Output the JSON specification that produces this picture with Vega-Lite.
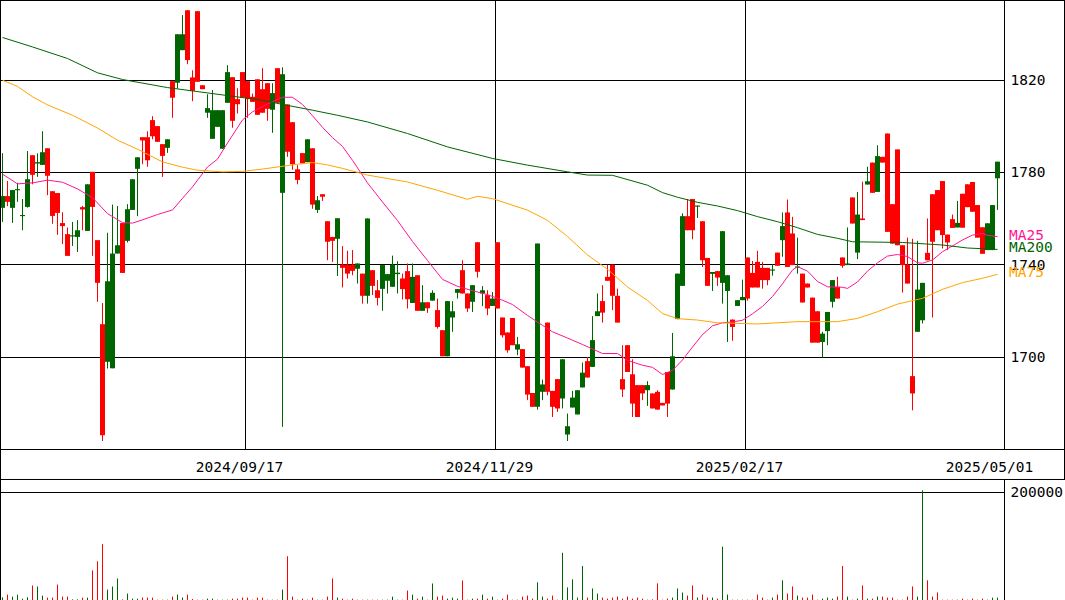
{
"width":1004,"height":600,
"autosize":{"type":"none"},
"padding":{"left":0,"top":0,"right":61,"bottom":0},
"background":"white",
"config":{"view":{"stroke":null},"text":{"font":"DejaVu Sans Mono"}},
"datasets":{
"candles":[
{"i":0,"d":"2024-07-05","o":1764.4,"h":1788.1,"l":1758.3,"c":1769.5,"v":5000},
{"i":1,"d":"2024-07-08","o":1769.5,"h":1776.0,"l":1765.1,"c":1767.0,"v":9900},
{"i":2,"d":"2024-07-09","o":1764.4,"h":1772.1,"l":1757.9,"c":1772.1,"v":6200},
{"i":3,"d":"2024-07-10","o":1772.0,"h":1775.2,"l":1767.0,"c":1772.5,"v":9900},
{"i":4,"d":"2024-07-11","o":1760.8,"h":1768.2,"l":1754.7,"c":1761.3,"v":2500},
{"i":5,"d":"2024-07-12","o":1764.8,"h":1789.0,"l":1764.5,"c":1776.8,"v":5000},
{"i":6,"d":"2024-07-16","o":1787.2,"h":1787.2,"l":1774.6,"c":1778.7,"v":26700},
{"i":7,"d":"2024-07-17","o":1783.6,"h":1788.0,"l":1777.8,"c":1784.2,"v":24800},
{"i":8,"d":"2024-07-18","o":1783.0,"h":1797.6,"l":1783.0,"c":1788.5,"v":8100},
{"i":9,"d":"2024-07-19","o":1790.2,"h":1790.2,"l":1769.9,"c":1778.3,"v":4300},
{"i":10,"d":"2024-07-22","o":1771.6,"h":1771.6,"l":1757.5,"c":1760.9,"v":4300},
{"i":11,"d":"2024-07-23","o":1770.8,"h":1770.8,"l":1752.7,"c":1762.2,"v":28500},
{"i":12,"d":"2024-07-24","o":1757.8,"h":1762.5,"l":1748.7,"c":1756.5,"v":6200},
{"i":13,"d":"2024-07-25","o":1753.0,"h":1755.9,"l":1743.6,"c":1743.6,"v":6200},
{"i":14,"d":"2024-07-26","o":1752.0,"h":1758.3,"l":1747.9,"c":1752.5,"v":1200},
{"i":15,"d":"2024-07-29","o":1751.8,"h":1759.1,"l":1745.3,"c":1754.7,"v":1200},
{"i":16,"d":"2024-07-30","o":1764.7,"h":1765.3,"l":1754.7,"c":1763.7,"v":4300},
{"i":17,"d":"2024-07-31","o":1754.4,"h":1774.6,"l":1754.4,"c":1774.6,"v":4300},
{"i":18,"d":"2024-08-01","o":1780.0,"h":1780.0,"l":1743.6,"c":1764.8,"v":54600},
{"i":19,"d":"2024-08-02","o":1750.4,"h":1750.4,"l":1723.7,"c":1731.9,"v":71300},
{"i":20,"d":"2024-08-05","o":1714.0,"h":1723.2,"l":1663.4,"c":1665.9,"v":102900},
{"i":21,"d":"2024-08-06","o":1697.7,"h":1753.6,"l":1694.8,"c":1732.6,"v":19200},
{"i":22,"d":"2024-08-07","o":1694.9,"h":1765.8,"l":1694.9,"c":1744.6,"v":24800},
{"i":23,"d":"2024-08-08","o":1744.6,"h":1765.2,"l":1744.6,"c":1748.2,"v":39700},
{"i":24,"d":"2024-08-09","o":1757.8,"h":1757.8,"l":1736.2,"c":1736.2,"v":1200},
{"i":25,"d":"2024-08-13","o":1750.1,"h":1766.0,"l":1749.4,"c":1763.8,"v":11800},
{"i":26,"d":"2024-08-14","o":1763.5,"h":1776.8,"l":1763.5,"c":1776.8,"v":2500},
{"i":27,"d":"2024-08-15","o":1781.3,"h":1786.3,"l":1760.8,"c":1786.3,"v":2500},
{"i":28,"d":"2024-08-16","o":1795.0,"h":1795.0,"l":1783.3,"c":1793.6,"v":4300},
{"i":29,"d":"2024-08-19","o":1795.0,"h":1797.6,"l":1782.2,"c":1785.0,"v":4300},
{"i":30,"d":"2024-08-20","o":1802.4,"h":1804.1,"l":1794.1,"c":1795.4,"v":4300},
{"i":31,"d":"2024-08-21","o":1799.8,"h":1799.8,"l":1793.0,"c":1793.0,"v":600},
{"i":32,"d":"2024-08-22","o":1792.0,"h":1792.0,"l":1777.8,"c":1786.9,"v":600},
{"i":33,"d":"2024-08-23","o":1790.4,"h":1794.1,"l":1788.2,"c":1794.1,"v":600},
{"i":34,"d":"2024-08-26","o":1819.3,"h":1819.3,"l":1803.4,"c":1812.1,"v":6200},
{"i":35,"d":"2024-08-27","o":1818.6,"h":1839.6,"l":1816.1,"c":1839.6,"v":9900},
{"i":36,"d":"2024-08-28","o":1832.7,"h":1847.9,"l":1832.7,"c":1839.6,"v":4300},
{"i":37,"d":"2024-08-29","o":1850.0,"h":1850.0,"l":1826.6,"c":1828.4,"v":9900},
{"i":38,"d":"2024-08-30","o":1820.9,"h":1824.0,"l":1810.6,"c":1815.1,"v":1900},
{"i":39,"d":"2024-09-02","o":1849.6,"h":1849.6,"l":1819.0,"c":1819.0,"v":600},
{"i":40,"d":"2024-09-03","o":1817.5,"h":1817.5,"l":1815.8,"c":1815.8,"v":600},
{"i":41,"d":"2024-09-04","o":1805.6,"h":1813.6,"l":1803.4,"c":1807.6,"v":2500},
{"i":42,"d":"2024-09-05","o":1794.3,"h":1815.4,"l":1794.3,"c":1806.7,"v":2500},
{"i":43,"d":"2024-09-06","o":1799.5,"h":1806.7,"l":1799.5,"c":1806.7,"v":600},
{"i":44,"d":"2024-09-09","o":1790.0,"h":1806.7,"l":1790.0,"c":1806.7,"v":600},
{"i":45,"d":"2024-09-10","o":1809.9,"h":1826.2,"l":1809.9,"c":1823.2,"v":600},
{"i":46,"d":"2024-09-11","o":1821.0,"h":1821.0,"l":1799.1,"c":1802.1,"v":2500},
{"i":47,"d":"2024-09-12","o":1811.5,"h":1816.2,"l":1805.3,"c":1809.3,"v":2500},
{"i":48,"d":"2024-09-13","o":1823.2,"h":1823.2,"l":1812.2,"c":1812.2,"v":4300},
{"i":49,"d":"2024-09-17","o":1819.3,"h":1819.3,"l":1803.4,"c":1811.5,"v":4300},
{"i":50,"d":"2024-09-18","o":1812.5,"h":1813.9,"l":1810.3,"c":1810.3,"v":600},
{"i":51,"d":"2024-09-19","o":1820.1,"h":1820.1,"l":1804.7,"c":1804.7,"v":4300},
{"i":52,"d":"2024-09-20","o":1815.8,"h":1824.9,"l":1805.6,"c":1805.6,"v":4300},
{"i":53,"d":"2024-09-24","o":1818.4,"h":1818.4,"l":1802.1,"c":1807.3,"v":600},
{"i":54,"d":"2024-09-25","o":1806.9,"h":1818.4,"l":1796.9,"c":1814.1,"v":600},
{"i":55,"d":"2024-09-26","o":1824.9,"h":1824.9,"l":1809.9,"c":1809.9,"v":600},
{"i":56,"d":"2024-09-27","o":1770.9,"h":1825.3,"l":1669.5,"c":1822.3,"v":19200},
{"i":57,"d":"2024-09-30","o":1809.2,"h":1809.2,"l":1786.5,"c":1788.7,"v":80600},
{"i":58,"d":"2024-10-01","o":1801.5,"h":1801.5,"l":1780.9,"c":1783.3,"v":6200},
{"i":59,"d":"2024-10-02","o":1781.1,"h":1782.9,"l":1774.6,"c":1776.5,"v":600},
{"i":60,"d":"2024-10-03","o":1788.1,"h":1788.1,"l":1783.7,"c":1783.7,"v":2500},
{"i":61,"d":"2024-10-04","o":1784.2,"h":1794.1,"l":1784.2,"c":1794.1,"v":600},
{"i":62,"d":"2024-10-07","o":1790.2,"h":1790.2,"l":1764.0,"c":1765.8,"v":4300},
{"i":63,"d":"2024-10-08","o":1763.5,"h":1769.5,"l":1762.2,"c":1767.7,"v":600},
{"i":64,"d":"2024-10-09","o":1770.3,"h":1770.3,"l":1767.4,"c":1769.2,"v":600},
{"i":65,"d":"2024-10-10","o":1758.6,"h":1758.6,"l":1741.7,"c":1749.7,"v":6200},
{"i":66,"d":"2024-10-11","o":1751.8,"h":1751.8,"l":1741.0,"c":1750.1,"v":39700},
{"i":67,"d":"2024-10-15","o":1751.0,"h":1759.9,"l":1734.9,"c":1759.9,"v":4300},
{"i":68,"d":"2024-10-16","o":1739.8,"h":1747.8,"l":1729.9,"c":1738.4,"v":2500},
{"i":69,"d":"2024-10-17","o":1739.8,"h":1745.8,"l":1733.8,"c":1735.9,"v":600},
{"i":70,"d":"2024-10-18","o":1739.8,"h":1746.1,"l":1735.2,"c":1737.1,"v":2500},
{"i":71,"d":"2024-10-21","o":1738.0,"h":1740.3,"l":1731.6,"c":1740.3,"v":600},
{"i":72,"d":"2024-10-22","o":1735.9,"h":1735.9,"l":1722.9,"c":1726.3,"v":600},
{"i":73,"d":"2024-10-23","o":1726.3,"h":1759.8,"l":1722.9,"c":1759.8,"v":600},
{"i":74,"d":"2024-10-24","o":1737.4,"h":1737.4,"l":1726.6,"c":1730.6,"v":600},
{"i":75,"d":"2024-10-25","o":1728.7,"h":1733.1,"l":1722.1,"c":1725.4,"v":600},
{"i":76,"d":"2024-10-28","o":1729.3,"h":1739.6,"l":1719.8,"c":1739.6,"v":600},
{"i":77,"d":"2024-10-29","o":1732.8,"h":1735.7,"l":1727.3,"c":1735.7,"v":600},
{"i":78,"d":"2024-10-30","o":1730.2,"h":1743.7,"l":1730.2,"c":1739.8,"v":6200},
{"i":79,"d":"2024-10-31","o":1735.7,"h":1741.3,"l":1727.3,"c":1736.3,"v":600},
{"i":80,"d":"2024-11-01","o":1733.8,"h":1735.9,"l":1724.7,"c":1729.2,"v":600},
{"i":81,"d":"2024-11-05","o":1737.0,"h":1740.3,"l":1720.8,"c":1724.8,"v":17400},
{"i":82,"d":"2024-11-06","o":1723.2,"h":1740.3,"l":1723.2,"c":1734.5,"v":9900},
{"i":83,"d":"2024-11-07","o":1735.2,"h":1735.2,"l":1719.8,"c":1719.8,"v":2500},
{"i":84,"d":"2024-11-08","o":1719.8,"h":1730.9,"l":1719.8,"c":1723.5,"v":6200},
{"i":85,"d":"2024-11-11","o":1723.5,"h":1723.5,"l":1718.9,"c":1720.9,"v":600},
{"i":86,"d":"2024-11-12","o":1724.2,"h":1728.7,"l":1724.2,"c":1727.6,"v":30400},
{"i":87,"d":"2024-11-13","o":1720.1,"h":1725.1,"l":1712.1,"c":1712.8,"v":6200},
{"i":88,"d":"2024-11-14","o":1711.4,"h":1711.4,"l":1700.1,"c":1700.1,"v":8100},
{"i":89,"d":"2024-11-15","o":1700.1,"h":1724.0,"l":1700.1,"c":1724.0,"v":2500},
{"i":90,"d":"2024-11-18","o":1716.9,"h":1724.0,"l":1710.7,"c":1719.6,"v":4300},
{"i":91,"d":"2024-11-19","o":1727.6,"h":1729.2,"l":1725.1,"c":1729.2,"v":2500},
{"i":92,"d":"2024-11-20","o":1737.4,"h":1741.7,"l":1727.3,"c":1727.3,"v":36000},
{"i":93,"d":"2024-11-21","o":1727.3,"h":1727.3,"l":1719.3,"c":1720.8,"v":600},
{"i":94,"d":"2024-11-22","o":1723.7,"h":1730.9,"l":1719.3,"c":1730.9,"v":2500},
{"i":95,"d":"2024-11-25","o":1749.5,"h":1749.5,"l":1734.2,"c":1736.7,"v":2500},
{"i":96,"d":"2024-11-26","o":1727.3,"h":1730.5,"l":1721.8,"c":1728.7,"v":9900},
{"i":97,"d":"2024-11-27","o":1726.6,"h":1728.7,"l":1717.9,"c":1720.8,"v":2500},
{"i":98,"d":"2024-11-28","o":1721.9,"h":1727.9,"l":1721.9,"c":1725.1,"v":6200},
{"i":99,"d":"2024-11-29","o":1749.5,"h":1749.5,"l":1720.8,"c":1720.8,"v":600},
{"i":100,"d":"2024-12-02","o":1716.9,"h":1716.9,"l":1708.2,"c":1709.2,"v":2500},
{"i":101,"d":"2024-12-03","o":1710.4,"h":1710.4,"l":1701.6,"c":1702.7,"v":9900},
{"i":102,"d":"2024-12-04","o":1716.7,"h":1716.7,"l":1704.9,"c":1704.9,"v":600},
{"i":103,"d":"2024-12-05","o":1703.0,"h":1708.5,"l":1700.6,"c":1705.3,"v":600},
{"i":104,"d":"2024-12-06","o":1703.2,"h":1703.2,"l":1695.2,"c":1695.2,"v":6200},
{"i":105,"d":"2024-12-09","o":1695.8,"h":1695.8,"l":1681.1,"c":1683.5,"v":8100},
{"i":106,"d":"2024-12-10","o":1684.2,"h":1684.2,"l":1678.2,"c":1678.2,"v":2500},
{"i":107,"d":"2024-12-11","o":1678.2,"h":1748.9,"l":1677.0,"c":1748.9,"v":32600},
{"i":108,"d":"2024-12-12","o":1684.7,"h":1690.0,"l":1681.1,"c":1687.9,"v":6300},
{"i":109,"d":"2024-12-13","o":1714.7,"h":1714.7,"l":1683.2,"c":1684.7,"v":2500},
{"i":110,"d":"2024-12-16","o":1685.1,"h":1685.1,"l":1673.8,"c":1678.2,"v":8100},
{"i":111,"d":"2024-12-17","o":1690.2,"h":1690.2,"l":1676.0,"c":1677.5,"v":600},
{"i":112,"d":"2024-12-18","o":1681.8,"h":1698.8,"l":1677.5,"c":1698.8,"v":87000},
{"i":113,"d":"2024-12-19","o":1666.2,"h":1675.3,"l":1663.4,"c":1669.8,"v":23200},
{"i":114,"d":"2024-12-20","o":1677.9,"h":1685.1,"l":1677.9,"c":1682.2,"v":38200},
{"i":115,"d":"2024-12-23","o":1674.9,"h":1685.4,"l":1674.9,"c":1685.4,"v":4400},
{"i":116,"d":"2024-12-24","o":1686.6,"h":1697.4,"l":1686.6,"c":1693.0,"v":62600},
{"i":117,"d":"2024-12-25","o":1698.0,"h":1699.8,"l":1690.9,"c":1690.9,"v":4400},
{"i":118,"d":"2024-12-26","o":1695.5,"h":1717.5,"l":1695.5,"c":1707.1,"v":21300},
{"i":119,"d":"2024-12-27","o":1717.5,"h":1727.3,"l":1717.5,"c":1719.6,"v":11900},
{"i":120,"d":"2024-12-30","o":1724.0,"h":1730.9,"l":1714.7,"c":1719.0,"v":4400},
{"i":121,"d":"2025-01-06","o":1734.5,"h":1739.8,"l":1732.8,"c":1732.8,"v":2500},
{"i":122,"d":"2025-01-07","o":1739.8,"h":1739.8,"l":1720.1,"c":1726.3,"v":4400},
{"i":123,"d":"2025-01-08","o":1726.3,"h":1729.4,"l":1714.7,"c":1714.7,"v":6300},
{"i":124,"d":"2025-01-09","o":1690.2,"h":1704.9,"l":1682.5,"c":1685.7,"v":2500},
{"i":125,"d":"2025-01-10","o":1704.9,"h":1704.9,"l":1693.3,"c":1693.3,"v":6300},
{"i":126,"d":"2025-01-14","o":1692.3,"h":1698.8,"l":1673.8,"c":1679.6,"v":2500},
{"i":127,"d":"2025-01-15","o":1687.6,"h":1687.6,"l":1673.8,"c":1673.8,"v":4400},
{"i":128,"d":"2025-01-16","o":1687.6,"h":1687.6,"l":1681.1,"c":1684.0,"v":2500},
{"i":129,"d":"2025-01-17","o":1685.4,"h":1689.3,"l":1678.6,"c":1687.6,"v":600},
{"i":130,"d":"2025-01-20","o":1684.0,"h":1684.0,"l":1677.5,"c":1677.5,"v":1200},
{"i":131,"d":"2025-01-21","o":1684.7,"h":1685.4,"l":1677.0,"c":1677.0,"v":30700},
{"i":132,"d":"2025-01-22","o":1679.9,"h":1679.9,"l":1678.8,"c":1678.8,"v":600},
{"i":133,"d":"2025-01-23","o":1693.3,"h":1693.3,"l":1673.8,"c":1679.6,"v":2500},
{"i":134,"d":"2025-01-24","o":1685.7,"h":1710.2,"l":1685.7,"c":1700.1,"v":4400},
{"i":135,"d":"2025-01-27","o":1716.2,"h":1735.9,"l":1716.2,"c":1735.9,"v":21300},
{"i":136,"d":"2025-01-28","o":1730.6,"h":1762.0,"l":1730.6,"c":1760.8,"v":13800},
{"i":137,"d":"2025-01-29","o":1760.8,"h":1768.2,"l":1754.7,"c":1754.7,"v":8100},
{"i":138,"d":"2025-01-30","o":1768.2,"h":1768.2,"l":1750.8,"c":1754.7,"v":26900},
{"i":139,"d":"2025-01-31","o":1764.9,"h":1765.4,"l":1760.0,"c":1765.4,"v":4400},
{"i":140,"d":"2025-02-03","o":1758.6,"h":1758.6,"l":1738.8,"c":1741.7,"v":10000},
{"i":141,"d":"2025-02-04","o":1742.7,"h":1742.7,"l":1730.6,"c":1730.6,"v":4400},
{"i":142,"d":"2025-02-05","o":1735.8,"h":1736.6,"l":1728.4,"c":1736.6,"v":4400},
{"i":143,"d":"2025-02-06","o":1737.0,"h":1737.0,"l":1730.6,"c":1734.2,"v":2500},
{"i":144,"d":"2025-02-07","o":1731.9,"h":1754.3,"l":1722.9,"c":1754.3,"v":98300},
{"i":145,"d":"2025-02-10","o":1728.4,"h":1735.2,"l":1706.3,"c":1735.2,"v":10000},
{"i":146,"d":"2025-02-12","o":1716.0,"h":1716.0,"l":1706.8,"c":1712.8,"v":600},
{"i":147,"d":"2025-02-13","o":1721.9,"h":1724.4,"l":1721.9,"c":1724.4,"v":600},
{"i":148,"d":"2025-02-14","o":1724.4,"h":1733.3,"l":1724.4,"c":1725.8,"v":600},
{"i":149,"d":"2025-02-17","o":1742.9,"h":1742.9,"l":1724.2,"c":1725.1,"v":600},
{"i":150,"d":"2025-02-18","o":1736.2,"h":1741.4,"l":1729.9,"c":1729.9,"v":600},
{"i":151,"d":"2025-02-19","o":1741.0,"h":1745.8,"l":1729.9,"c":1729.9,"v":10000},
{"i":152,"d":"2025-02-20","o":1738.4,"h":1741.0,"l":1729.4,"c":1733.1,"v":4400},
{"i":153,"d":"2025-02-21","o":1738.4,"h":1738.4,"l":1730.9,"c":1733.1,"v":600},
{"i":154,"d":"2025-02-25","o":1737.2,"h":1740.0,"l":1735.0,"c":1737.7,"v":4400},
{"i":155,"d":"2025-02-26","o":1745.0,"h":1745.0,"l":1739.3,"c":1739.3,"v":10000},
{"i":156,"d":"2025-02-27","o":1750.4,"h":1762.4,"l":1743.2,"c":1756.5,"v":36300},
{"i":157,"d":"2025-02-28","o":1762.4,"h":1768.0,"l":1738.8,"c":1738.8,"v":11900},
{"i":158,"d":"2025-03-03","o":1753.3,"h":1760.5,"l":1739.6,"c":1739.6,"v":25000},
{"i":159,"d":"2025-03-04","o":1738.5,"h":1751.5,"l":1735.9,"c":1739.0,"v":8100},
{"i":160,"d":"2025-03-05","o":1735.9,"h":1735.9,"l":1723.4,"c":1723.4,"v":4400},
{"i":161,"d":"2025-03-06","o":1731.6,"h":1731.6,"l":1729.9,"c":1729.9,"v":4400},
{"i":162,"d":"2025-03-07","o":1725.5,"h":1725.5,"l":1706.0,"c":1706.0,"v":10000},
{"i":163,"d":"2025-03-10","o":1719.6,"h":1719.6,"l":1706.0,"c":1706.0,"v":600},
{"i":164,"d":"2025-03-11","o":1706.3,"h":1710.7,"l":1699.6,"c":1709.9,"v":2500},
{"i":165,"d":"2025-03-12","o":1711.0,"h":1719.3,"l":1704.9,"c":1719.3,"v":4400},
{"i":166,"d":"2025-03-13","o":1723.7,"h":1733.1,"l":1721.2,"c":1733.1,"v":2500},
{"i":167,"d":"2025-03-14","o":1730.2,"h":1734.5,"l":1725.1,"c":1725.1,"v":6300},
{"i":168,"d":"2025-03-17","o":1742.9,"h":1742.9,"l":1738.4,"c":1739.3,"v":62600},
{"i":169,"d":"2025-03-18","o":1739.6,"h":1755.9,"l":1739.6,"c":1740.3,"v":6300},
{"i":170,"d":"2025-03-19","o":1768.9,"h":1768.9,"l":1757.6,"c":1757.6,"v":600},
{"i":171,"d":"2025-03-21","o":1745.0,"h":1771.3,"l":1742.2,"c":1761.5,"v":2500},
{"i":172,"d":"2025-03-24","o":1759.8,"h":1775.7,"l":1759.1,"c":1759.1,"v":26900},
{"i":173,"d":"2025-03-25","o":1774.5,"h":1782.2,"l":1774.5,"c":1775.9,"v":2500},
{"i":174,"d":"2025-03-26","o":1784.0,"h":1784.0,"l":1770.9,"c":1770.9,"v":2500},
{"i":175,"d":"2025-03-27","o":1771.3,"h":1791.5,"l":1771.3,"c":1786.8,"v":6300},
{"i":176,"d":"2025-03-28","o":1786.5,"h":1786.5,"l":1784.0,"c":1784.0,"v":6300},
{"i":177,"d":"2025-03-31","o":1796.6,"h":1796.6,"l":1754.0,"c":1754.0,"v":4400},
{"i":178,"d":"2025-04-01","o":1766.0,"h":1766.0,"l":1748.9,"c":1748.9,"v":4400},
{"i":179,"d":"2025-04-02","o":1789.7,"h":1789.7,"l":1748.2,"c":1748.2,"v":600},
{"i":180,"d":"2025-04-03","o":1748.2,"h":1748.2,"l":1727.7,"c":1739.6,"v":600},
{"i":181,"d":"2025-04-04","o":1739.8,"h":1751.5,"l":1731.6,"c":1731.6,"v":6300},
{"i":182,"d":"2025-04-07","o":1691.5,"h":1751.0,"l":1676.7,"c":1684.0,"v":25000},
{"i":183,"d":"2025-04-08","o":1710.7,"h":1750.1,"l":1710.7,"c":1729.0,"v":6300},
{"i":184,"d":"2025-04-09","o":1715.7,"h":1731.9,"l":1714.3,"c":1731.9,"v":202000},
{"i":185,"d":"2025-04-10","o":1744.9,"h":1759.8,"l":1741.7,"c":1741.7,"v":36300},
{"i":186,"d":"2025-04-11","o":1770.3,"h":1770.3,"l":1716.9,"c":1749.7,"v":6300},
{"i":187,"d":"2025-04-14","o":1772.1,"h":1772.1,"l":1754.7,"c":1754.7,"v":13800},
{"i":188,"d":"2025-04-15","o":1776.0,"h":1776.0,"l":1746.8,"c":1752.6,"v":600},
{"i":189,"d":"2025-04-16","o":1752.8,"h":1752.8,"l":1746.1,"c":1749.4,"v":600},
{"i":190,"d":"2025-04-17","o":1759.5,"h":1761.5,"l":1755.7,"c":1755.7,"v":600},
{"i":191,"d":"2025-04-18","o":1755.9,"h":1767.4,"l":1755.9,"c":1757.9,"v":600},
{"i":192,"d":"2025-04-21","o":1770.5,"h":1770.5,"l":1755.8,"c":1755.8,"v":2500},
{"i":193,"d":"2025-04-22","o":1774.6,"h":1774.6,"l":1764.7,"c":1764.7,"v":600},
{"i":194,"d":"2025-04-23","o":1775.6,"h":1775.6,"l":1762.7,"c":1762.7,"v":2500},
{"i":195,"d":"2025-04-24","o":1765.6,"h":1765.6,"l":1751.5,"c":1751.5,"v":600},
{"i":196,"d":"2025-04-25","o":1756.0,"h":1756.0,"l":1744.5,"c":1744.5,"v":2500},
{"i":197,"d":"2025-04-28","o":1746.1,"h":1757.7,"l":1746.1,"c":1757.7,"v":600},
{"i":198,"d":"2025-04-30","o":1746.1,"h":1765.6,"l":1746.1,"c":1765.6,"v":4400},
{"i":199,"d":"2025-05-01","o":1777.2,"h":1784.4,"l":1763.5,"c":1784.4,"v":4400}
],
"ma":[
{"s":"MA25","i":0,"v":1779.0},{"s":"MA25","i":3,"v":1774.8},{"s":"MA25","i":6,"v":1775.2},{"s":"MA25","i":9,"v":1776.4},{"s":"MA25","i":12,"v":1775.5},{"s":"MA25","i":15,"v":1772.6},{"s":"MA25","i":18,"v":1768.8},{"s":"MA25","i":21,"v":1761.9},{"s":"MA25","i":24,"v":1758.0},{"s":"MA25","i":26,"v":1757.8},{"s":"MA25","i":28,"v":1759.2},{"s":"MA25","i":31,"v":1761.5},{"s":"MA25","i":34,"v":1763.5},{"s":"MA25","i":36,"v":1768.5},{"s":"MA25","i":38,"v":1773.5},{"s":"MA25","i":41,"v":1782.1},{"s":"MA25","i":43,"v":1785.5},{"s":"MA25","i":45,"v":1792.5},{"s":"MA25","i":48,"v":1802.5},{"s":"MA25","i":50,"v":1806.0},{"s":"MA25","i":53,"v":1809.4},{"s":"MA25","i":56,"v":1812.3},{"s":"MA25","i":58,"v":1812.3},{"s":"MA25","i":60,"v":1809.2},{"s":"MA25","i":62,"v":1804.3},{"s":"MA25","i":64,"v":1799.3},{"s":"MA25","i":66,"v":1794.8},{"s":"MA25","i":68,"v":1791.0},{"s":"MA25","i":70,"v":1785.0},{"s":"MA25","i":73,"v":1775.2},{"s":"MA25","i":76,"v":1766.9},{"s":"MA25","i":79,"v":1758.9},{"s":"MA25","i":82,"v":1749.8},{"s":"MA25","i":85,"v":1741.6},{"s":"MA25","i":88,"v":1733.4},{"s":"MA25","i":91,"v":1730.4},{"s":"MA25","i":94,"v":1728.5},{"s":"MA25","i":97,"v":1726.8},{"s":"MA25","i":100,"v":1724.4},{"s":"MA25","i":102,"v":1722.5},{"s":"MA25","i":105,"v":1717.8},{"s":"MA25","i":108,"v":1713.5},{"s":"MA25","i":110,"v":1710.7},{"s":"MA25","i":113,"v":1708.0},{"s":"MA25","i":116,"v":1705.2},{"s":"MA25","i":120,"v":1701.3},{"s":"MA25","i":123,"v":1701.3},{"s":"MA25","i":125,"v":1698.3},{"s":"MA25","i":128,"v":1696.2},{"s":"MA25","i":130,"v":1695.3},{"s":"MA25","i":132,"v":1692.2},{"s":"MA25","i":134,"v":1694.0},{"s":"MA25","i":136,"v":1698.5},{"s":"MA25","i":138,"v":1704.1},{"s":"MA25","i":140,"v":1709.5},{"s":"MA25","i":142,"v":1713.3},{"s":"MA25","i":144,"v":1714.6},{"s":"MA25","i":146,"v":1715.0},{"s":"MA25","i":148,"v":1715.7},{"s":"MA25","i":150,"v":1718.5},{"s":"MA25","i":152,"v":1721.7},{"s":"MA25","i":154,"v":1726.0},{"s":"MA25","i":156,"v":1731.5},{"s":"MA25","i":158,"v":1737.5},{"s":"MA25","i":159,"v":1738.9},{"s":"MA25","i":161,"v":1737.0},{"s":"MA25","i":163,"v":1732.5},{"s":"MA25","i":165,"v":1730.2},{"s":"MA25","i":168,"v":1730.0},{"s":"MA25","i":169,"v":1729.5},{"s":"MA25","i":171,"v":1732.3},{"s":"MA25","i":173,"v":1737.0},{"s":"MA25","i":175,"v":1740.6},{"s":"MA25","i":177,"v":1743.5},{"s":"MA25","i":179,"v":1744.2},{"s":"MA25","i":181,"v":1743.3},{"s":"MA25","i":183,"v":1740.6},{"s":"MA25","i":184,"v":1740.4},{"s":"MA25","i":186,"v":1741.8},{"s":"MA25","i":188,"v":1745.4},{"s":"MA25","i":190,"v":1747.9},{"s":"MA25","i":192,"v":1750.5},{"s":"MA25","i":194,"v":1752.6},{"s":"MA25","i":196,"v":1753.3},{"s":"MA25","i":197,"v":1752.5},{"s":"MA25","i":199,"v":1751.9},
{"s":"MA75","i":0,"v":1819.7},{"s":"MA75","i":3,"v":1817.0},{"s":"MA75","i":6,"v":1812.5},{"s":"MA75","i":9,"v":1809.0},{"s":"MA75","i":14,"v":1804.5},{"s":"MA75","i":19,"v":1799.0},{"s":"MA75","i":23,"v":1793.7},{"s":"MA75","i":27,"v":1789.8},{"s":"MA75","i":32,"v":1784.3},{"s":"MA75","i":36,"v":1782.0},{"s":"MA75","i":39,"v":1780.7},{"s":"MA75","i":44,"v":1780.0},{"s":"MA75","i":48,"v":1780.2},{"s":"MA75","i":52,"v":1781.2},{"s":"MA75","i":59,"v":1783.3},{"s":"MA75","i":62,"v":1784.0},{"s":"MA75","i":65,"v":1783.0},{"s":"MA75","i":68,"v":1781.5},{"s":"MA75","i":73,"v":1778.6},{"s":"MA75","i":81,"v":1775.6},{"s":"MA75","i":87,"v":1772.0},{"s":"MA75","i":93,"v":1768.1},{"s":"MA75","i":95,"v":1769.4},{"s":"MA75","i":98,"v":1768.4},{"s":"MA75","i":105,"v":1763.4},{"s":"MA75","i":109,"v":1759.0},{"s":"MA75","i":113,"v":1752.0},{"s":"MA75","i":117,"v":1744.0},{"s":"MA75","i":121,"v":1737.8},{"s":"MA75","i":125,"v":1730.1},{"s":"MA75","i":129,"v":1724.3},{"s":"MA75","i":132,"v":1718.6},{"s":"MA75","i":135,"v":1716.4},{"s":"MA75","i":139,"v":1715.8},{"s":"MA75","i":143,"v":1714.6},{"s":"MA75","i":151,"v":1714.1},{"s":"MA75","i":159,"v":1715.1},{"s":"MA75","i":167,"v":1715.1},{"s":"MA75","i":171,"v":1716.5},{"s":"MA75","i":175,"v":1719.4},{"s":"MA75","i":179,"v":1722.7},{"s":"MA75","i":184,"v":1725.2},{"s":"MA75","i":188,"v":1729.1},{"s":"MA75","i":192,"v":1732.0},{"s":"MA75","i":196,"v":1733.9},{"s":"MA75","i":199,"v":1735.6},
{"s":"MA200","i":0,"v":1838.2},{"s":"MA200","i":6,"v":1834.1},{"s":"MA200","i":13,"v":1829.1},{"s":"MA200","i":19,"v":1822.9},{"s":"MA200","i":24,"v":1820.0},{"s":"MA200","i":33,"v":1816.5},{"s":"MA200","i":42,"v":1813.9},{"s":"MA200","i":52,"v":1811.0},{"s":"MA200","i":56,"v":1809.2},{"s":"MA200","i":62,"v":1806.7},{"s":"MA200","i":67,"v":1804.5},{"s":"MA200","i":73,"v":1801.6},{"s":"MA200","i":81,"v":1796.6},{"s":"MA200","i":89,"v":1790.8},{"s":"MA200","i":98,"v":1785.8},{"s":"MA200","i":105,"v":1782.9},{"s":"MA200","i":113,"v":1780.0},{"s":"MA200","i":117,"v":1778.6},{"s":"MA200","i":122,"v":1778.5},{"s":"MA200","i":129,"v":1774.2},{"s":"MA200","i":132,"v":1771.0},{"s":"MA200","i":135,"v":1769.0},{"s":"MA200","i":139,"v":1766.8},{"s":"MA200","i":143,"v":1765.2},{"s":"MA200","i":147,"v":1763.2},{"s":"MA200","i":151,"v":1760.6},{"s":"MA200","i":155,"v":1758.4},{"s":"MA200","i":159,"v":1755.8},{"s":"MA200","i":163,"v":1752.9},{"s":"MA200","i":167,"v":1751.2},{"s":"MA200","i":170,"v":1749.7},{"s":"MA200","i":180,"v":1749.4},{"s":"MA200","i":188,"v":1748.3},{"s":"MA200","i":193,"v":1747.0},{"s":"MA200","i":199,"v":1746.4}
]
},
"layer":[
{"layer":[
{"data":{"name":"candles"},
 "mark":{"type":"rule","strokeWidth":1},
 "encoding":{
  "x":{"field":"i","type":"quantitative","scale":{"domain":[-0.5,200.3],"nice":false,"zero":false,"padding":0},
   "axis":{"orient":"bottom","offset":-151,"values":[48.5,98.5,148.5,198.5],"labelExpr":"datum.value < 50 ? '2024/09/17' : datum.value < 100 ? '2024/11/29' : datum.value < 150 ? '2025/02/17' : '2025/05/01'","title":null,"domain":false,"ticks":false,"tickSize":0,"grid":false,"labelPadding":11,"labelOffset":-6,"labelBaseline":"top","labelAlign":"center","labelFontSize":14.5,"labelFont":"DejaVu Sans Mono","labelColor":"black","labelFlush":false,"labelOverlap":false,"labelBound":false}},
  "y":{"field":"l","type":"quantitative","scale":{"domain":[1659.93,1854.44],"range":[449,0],"nice":false,"zero":false,"padding":0},
   "axis":{"orient":"right","values":[1700,1740,1780,1820],"format":"d","title":null,"grid":true,"gridColor":"black","gridOpacity":1,"gridWidth":1,"domain":false,"ticks":false,"tickSize":0,"labelPadding":6,"labelAlign":"left","labelBaseline":"middle","labelOffset":1,"labelFontSize":14.5,"labelFont":"DejaVu Sans Mono","labelColor":"black","labelFlush":false,"labelOverlap":false,"labelBound":false}},
  "y2":{"field":"h"},
  "color":{"condition":{"test":"datum.c >= datum.o","value":"#006400"},"value":"#ff0000"}}},
{"data":{"values":[{"i":48.5},{"i":98.5},{"i":148.5}]},
 "mark":{"type":"rule","color":"black","strokeWidth":1,"xOffset":0.5},
 "encoding":{
  "x":{"field":"i","type":"quantitative","scale":{"domain":[-0.5,200.3],"nice":false,"zero":false,"padding":0}},
  "y":{"datum":1854.44,"type":"quantitative","scale":{"domain":[1659.93,1854.44],"range":[449,0],"nice":false,"zero":false,"padding":0}},
  "y2":{"datum":1659.93}}},
{"data":{"name":"candles"},
 "mark":{"type":"bar","size":5},
 "encoding":{
  "x":{"field":"i","type":"quantitative","scale":{"domain":[-0.5,200.3],"nice":false,"zero":false,"padding":0}},
  "y":{"field":"o","type":"quantitative","scale":{"domain":[1659.93,1854.44],"range":[449,0],"nice":false,"zero":false,"padding":0}},
  "y2":{"field":"c"},
  "color":{"condition":{"test":"datum.c >= datum.o","value":"#006400"},"value":"#ff0000"}}},
{"data":{"name":"ma"},
 "mark":{"type":"line","strokeWidth":1},
 "encoding":{
  "x":{"field":"i","type":"quantitative","scale":{"domain":[-0.5,200.3],"nice":false,"zero":false,"padding":0}},
  "y":{"field":"v","type":"quantitative","scale":{"domain":[1659.93,1854.44],"range":[449,0],"nice":false,"zero":false,"padding":0}},
  "color":{"field":"s","type":"nominal","scale":{"domain":["MA25","MA75","MA200"],"range":["#ff1493","#ffa500","#006400"]},"legend":null}}},
{"data":{"name":"ma"},
 "transform":[{"filter":"datum.i == 199"}],
 "mark":{"type":"text","align":"left","baseline":"middle","dx":11.5,"dy":-1,"fontSize":14.5,"font":"DejaVu Sans Mono"},
 "encoding":{
  "x":{"field":"i","type":"quantitative","scale":{"domain":[-0.5,200.3],"nice":false,"zero":false,"padding":0}},
  "y":{"field":"v","type":"quantitative","scale":{"domain":[1659.93,1854.44],"range":[449,0],"nice":false,"zero":false,"padding":0}},
  "text":{"field":"s"},
  "color":{"field":"s","type":"nominal","scale":{"domain":["MA25","MA75","MA200"],"range":["#ff1493","#ffa500","#006400"]},"legend":null}}},
{"data":{"values":[{}]},"mark":{"type":"rule","color":"black","strokeWidth":1},
 "encoding":{"x":{"datum":-0.5,"type":"quantitative","scale":{"domain":[-0.5,200.3],"nice":false,"zero":false,"padding":0}},"x2":{"datum":212.5},
  "y":{"datum":1854.22,"type":"quantitative","scale":{"domain":[1659.93,1854.44],"range":[449,0],"nice":false,"zero":false,"padding":0}}}},
{"data":{"values":[{}]},"mark":{"type":"rule","color":"black","strokeWidth":1},
 "encoding":{"x":{"datum":-0.5,"type":"quantitative","scale":{"domain":[-0.5,200.3],"nice":false,"zero":false,"padding":0}},"x2":{"datum":212.5},
  "y":{"datum":1659.71,"type":"quantitative","scale":{"domain":[1659.93,1854.44],"range":[449,0],"nice":false,"zero":false,"padding":0}}}},
{"data":{"values":[{}]},"mark":{"type":"rule","color":"black","strokeWidth":1},
 "encoding":{"x":{"datum":-0.5,"type":"quantitative","scale":{"domain":[-0.5,200.3],"nice":false,"zero":false,"padding":0}},"x2":{"datum":212.5},
  "y":{"datum":1646.72,"type":"quantitative","scale":{"domain":[1659.93,1854.44],"range":[449,0],"nice":false,"zero":false,"padding":0}}}},
{"data":{"values":[{}]},"mark":{"type":"rule","color":"black","strokeWidth":1},
 "encoding":{"x":{"datum":-0.4,"type":"quantitative","scale":{"domain":[-0.5,200.3],"nice":false,"zero":false,"padding":0}},
  "y":{"datum":1854.44,"type":"quantitative","scale":{"domain":[1659.93,1854.44],"range":[449,0],"nice":false,"zero":false,"padding":0}},"y2":{"datum":1594.51}}},
{"data":{"values":[{}]},"mark":{"type":"rule","color":"black","strokeWidth":1},
 "encoding":{"x":{"datum":200.4,"type":"quantitative","scale":{"domain":[-0.5,200.3],"nice":false,"zero":false,"padding":0}},
  "y":{"datum":1854.44,"type":"quantitative","scale":{"domain":[1659.93,1854.44],"range":[449,0],"nice":false,"zero":false,"padding":0}},"y2":{"datum":1659.71}}},
{"data":{"values":[{}]},"mark":{"type":"rule","color":"black","strokeWidth":1},
 "encoding":{"x":{"datum":200.4,"type":"quantitative","scale":{"domain":[-0.5,200.3],"nice":false,"zero":false,"padding":0}},
  "y":{"datum":1646.72,"type":"quantitative","scale":{"domain":[1659.93,1854.44],"range":[449,0],"nice":false,"zero":false,"padding":0}},"y2":{"datum":1594.51}}},
{"data":{"values":[{}]},"mark":{"type":"rule","color":"black","strokeWidth":1},
 "encoding":{"x":{"datum":212.4,"type":"quantitative","scale":{"domain":[-0.5,200.3],"nice":false,"zero":false,"padding":0}},
  "y":{"datum":1854.44,"type":"quantitative","scale":{"domain":[1659.93,1854.44],"range":[449,0],"nice":false,"zero":false,"padding":0}},"y2":{"datum":1646.72}}}
]},
{"layer":[
{"data":{"name":"candles"},
 "mark":{"type":"rule","strokeWidth":1},
 "encoding":{
  "x":{"field":"i","type":"quantitative","scale":{"domain":[-0.5,200.3],"nice":false,"zero":false,"padding":0}},
  "y":{"field":"v","type":"quantitative","scale":{"domain":[0,200000],"range":[600,491.5],"nice":false,"zero":true,"padding":0},
   "axis":{"orient":"right","values":[200000],"format":"d","title":null,"grid":true,"gridColor":"black","gridOpacity":1,"gridWidth":1,"domain":false,"ticks":false,"tickSize":0,"labelPadding":6,"labelAlign":"left","labelBaseline":"middle","labelOffset":1,"labelFontSize":14.5,"labelFont":"DejaVu Sans Mono","labelColor":"black","labelFlush":false,"labelOverlap":false,"labelBound":false}},
  "y2":{"datum":0},
  "color":{"condition":{"test":"datum.c >= datum.o","value":"#006400"},"value":"#ff0000"}}}
]}
],
"resolve":{"scale":{"y":"independent"},"axis":{"y":"independent"}}
}
